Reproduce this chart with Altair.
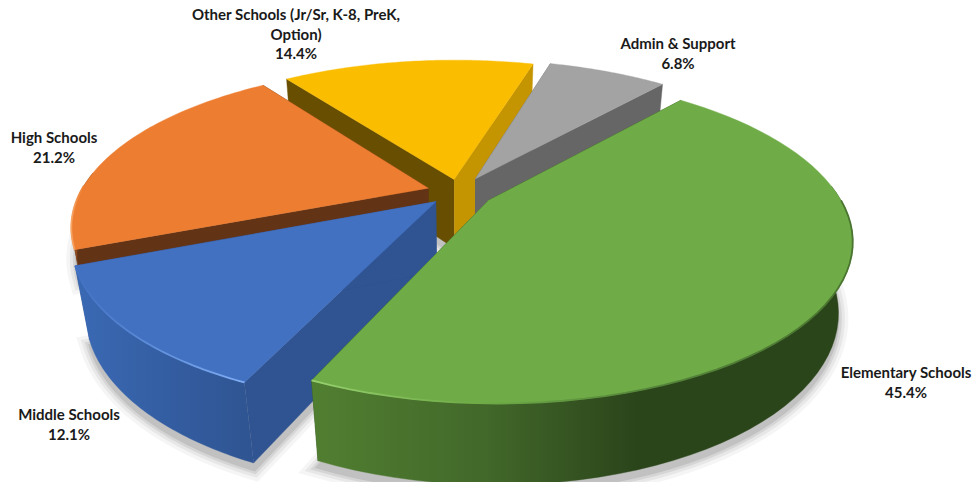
import math
import altair as alt
import pandas as pd

# Budget shares, clockwise from the first slice
NAMES = ["Elementary Schools", "Middle Schools", "High Schools",
         "Other Schools (Jr/Sr, K-8, PreK, Option)", "Admin & Support"]
SHARES = [45.4, 12.1, 21.2, 14.4, 6.8]
EXPLODE = [0.10, 0.09, 0.092, 0.085, 0.10]
# Height of each slice's side faces; the High Schools sides end behind its neighbour
SIDE_DEPTH = [1, 1, 0.4, 1, 1]
TOP_COLORS = ["#6FAC47", "#4371C2", "#ED7D31", "#FBBD00", "#A3A3A3"]
START_WALLS = ["#2B451B", "#2F5491", "#633316", "#674E00", "#666666"]
END_WALLS = ["#2B451B", "#2F5491", "#633316", "#C49500", "#666666"]
RIM_STOPS = [
    [(0, "#517F31"), (0.32, "#42682A"), (0.6, "#2B451B"), (1, "#2B451B")],
    [(0, "#3A69B4"), (0.6, "#335C9F"), (1, "#2F5491")],
    [(0, "#9A4F1E"), (1, "#633316")],
    [(0, "#674E00"), (1, "#674E00")],
    [(0, "#666666"), (1, "#666666")],
]
BEVEL_STOPS = {
    0: [(0, "#98D06F"), (0.3, "#6FAC47"), (0.62, "#55853A"), (1, "#4A7530")],
    1: [(0, "#4371C2"), (1, "#7FAEF5")],
    2: [(0, "#F7A566"), (1, "#ED7D31")],
}
LABEL_LINES = [
    ["Elementary Schools", "45.4%"],
    ["Middle Schools", "12.1%"],
    ["High Schools", "21.2%"],
    ["Other Schools (Jr/Sr, K-8, PreK,", "Option)", "14.4%"],
    ["Admin & Support", "6.8%"],
]
LABEL_CENTERS = [(906, 373), (69, 415), (54, 138), (296, 15), (678, 44)]
LABEL_STEP = 19.5

# Drawing order: back slices first, the large front slice last
PAINT_ORDER = [3, 4, 2, 1, 0]

# Tilted-disc camera
FIRST_ANGLE = 41.0
CX, CY = 459.0, 192.0
RX, RY = 348.0, 152.0
PERSP = 0.23
SHRINK = 0.035
DROP = 72.0
STEPS = 60


def project(u, v, z):
    w = 1 - PERSP * v + SHRINK * z
    return CX + RX * u / w, CY + (RY * v + DROP * z) / w


def disc(angle, radius, bisector, explode):
    a, b = math.radians(angle), math.radians(bisector)
    return (radius * math.sin(a) + explode * math.sin(b),
            -radius * math.cos(a) - explode * math.cos(b))


def frame(points):
    return pd.DataFrame({"x": [p[0] for p in points],
                         "y": [p[1] for p in points],
                         "i": range(len(points))})


X = alt.X("x:Q", scale=alt.Scale(domain=[0, 977], nice=False, zero=False), axis=None)
Y = alt.Y("y:Q", scale=alt.Scale(domain=[482, 0], nice=False, zero=False), axis=None)


def polygon(points, fill, stroke=None, **mark):
    return alt.Chart(frame(points)).mark_line(
        fill=fill, stroke=stroke or fill, strokeWidth=mark.pop("strokeWidth", 0.4),
        interpolate="linear", **mark
    ).encode(x=X, y=Y, order=alt.Order("i:Q"))


def horizontal(stops):
    return alt.Gradient(gradient="linear", x1=0, x2=1, y1=0, y2=0,
                        stops=[alt.GradientStop(offset=o, color=c) for o, c in stops])


# Slice outlines derived from the shares
shapes = []
angle = FIRST_ANGLE
for k, share in enumerate(SHARES):
    sweep = share * 3.6
    mid = angle + sweep / 2
    arc = [angle + sweep * s / STEPS for s in range(STEPS + 1)]
    apex = disc(0, 0, mid, EXPLODE[k])
    rim = [disc(t, 1, mid, EXPLODE[k]) for t in arc]
    # Only the part of the curved face turned toward the viewer is drawn
    facing = [i for i, t in enumerate(arc) if -math.cos(math.radians(t)) > -0.12]
    lit = [i for i, t in enumerate(arc) if -math.cos(math.radians(t)) > -0.02]
    depth = SIDE_DEPTH[k]
    shapes.append({
        "apex_top": project(*apex, 0), "apex_bot": project(*apex, depth),
        "rim_top": [project(*p, 0) for p in rim],
        "rim_bot": [project(*p, depth) for p in rim],
        "rim_shadow": [project(*p, depth * 1.08) for p in rim],
        "apex_shadow": project(*apex, depth * 1.08),
        "facing": facing,
        "lit": lit,
    })
    angle += sweep

layers = []

# Soft shadow under the pie
for width, alpha in [(22, 0.035), (15, 0.05), (9, 0.07), (4, 0.09)]:
    for k in PAINT_ORDER:
        s = shapes[k]
        layers.append(polygon([s["apex_shadow"]] + s["rim_shadow"] + [s["apex_shadow"]],
                              "#000000", strokeWidth=width, opacity=alpha))

for k in PAINT_ORDER:
    s = shapes[k]
    rt, rb = s["rim_top"], s["rim_bot"]
    front_top = [rt[i] for i in s["facing"]]
    front_bot = [rb[i] for i in s["facing"]]
    # Cut faces
    layers.append(polygon([s["apex_top"], rt[0], rb[0], s["apex_bot"]], START_WALLS[k]))
    layers.append(polygon([s["apex_top"], rt[-1], rb[-1], s["apex_bot"]], END_WALLS[k]))
    # Curved outer face
    if len(front_top) > 1:
        layers.append(polygon(front_top + front_bot[::-1], horizontal(RIM_STOPS[k])))
    # Top face
    layers.append(polygon([s["apex_top"]] + rt + [s["apex_top"]], TOP_COLORS[k]))
    # Bevel highlight along the front rim
    if k in BEVEL_STOPS and len(s["lit"]) > 1:
        layers.append(alt.Chart(frame([rt[i] for i in s["lit"]])).mark_line(
            strokeWidth=1.8, stroke=horizontal(BEVEL_STOPS[k]),
        ).encode(x=X, y=Y, order=alt.Order("i:Q")))

# Category and percentage labels
rows = []
for lines, (cx, cy) in zip(LABEL_LINES, LABEL_CENTERS):
    for n, line in enumerate(lines):
        rows.append({"x": cx, "y": cy + n * LABEL_STEP, "t": line})
layers.append(alt.Chart(pd.DataFrame(rows)).mark_text(
    font="Lato", fontSize=15, fontWeight="bold", color="#1A1A1A", align="center", baseline="middle"
).encode(x=X, y=Y, text="t:N"))

chart = alt.layer(*layers).properties(
    width=977, height=482, padding=0, autosize=alt.AutoSizeParams(type="none"), background="#FFFFFF"
).configure_view(strokeWidth=0)

chart.save("out.html", embed_options={"renderer": "svg", "actions": False})
